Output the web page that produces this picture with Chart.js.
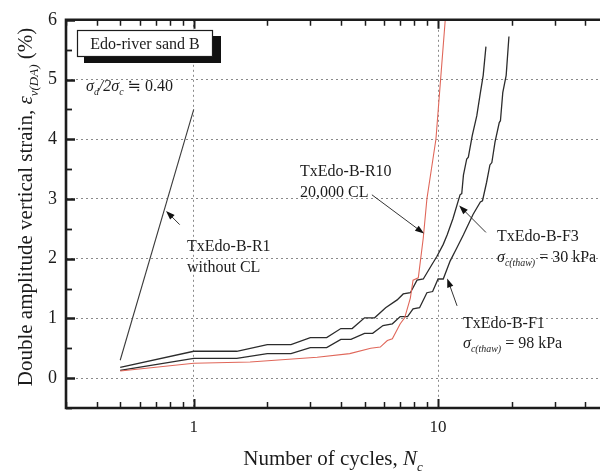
<!DOCTYPE html>
<html>
<head>
<meta charset="utf-8">
<script src="https://cdn.jsdelivr.net/npm/chart.js@4"></script>
<style>
  html, body { margin: 0; padding: 0; background: #fff; overflow: hidden; }
  #wrap { width: 600px; height: 473px; }
</style>
</head>
<body>
<div id="wrap"><canvas id="strainChart" width="600" height="473"></canvas></div>
<script>
// number of cycles / double amplitude vertical strain (%)
const r1Cycles = [0.5, 1];
const r1Strain = [0.3, 4.5];

const r10Cycles = [0.5, 1, 1.7, 3.2, 4.35, 5.3, 5.8, 6.2, 6.5, 7.0, 7.3, 7.7, 7.9, 8.3, 8.7, 9.0, 9.8, 10.7, 11];
const r10Strain = [0.12, 0.25, 0.27, 0.35, 0.41, 0.50, 0.52, 0.63, 0.66, 0.91, 1.01, 1.34, 1.64, 1.68, 2.35, 3.0, 4.0, 6.0, 6.5];

const f3Cycles = [0.5, 1, 1.5, 2.0, 2.5, 3.0, 3.5, 4.0, 4.45, 5.0, 5.5, 6.1, 6.8, 7.2, 7.7, 8.2, 8.7, 9.4, 9.9, 10.5, 10.9, 11.5, 12.3, 12.5, 12.7, 13.1, 13.3, 13.8, 14.4, 14.9, 15.3, 15.7];
const f3Strain = [0.18, 0.45, 0.45, 0.56, 0.56, 0.68, 0.68, 0.83, 0.83, 1.01, 1.01, 1.18, 1.31, 1.41, 1.43, 1.64, 1.66, 1.89, 2.04, 2.24, 2.40, 2.67, 3.07, 3.09, 3.40, 3.67, 3.70, 4.06, 4.39, 4.78, 5.07, 5.55];

const f1Cycles = [0.5, 1, 1.5, 2.0, 2.5, 3.0, 3.5, 4.0, 4.4, 5.0, 5.4, 5.95, 6.5, 7.0, 7.5, 7.9, 8.4, 9.0, 9.5, 10.0, 10.5, 11.2, 11.9, 12.7, 13.9, 14.9, 15.2, 15.8, 16.3, 16.6, 17.1, 17.8, 18.0, 18.4, 19.0, 19.5];
const f1Strain = [0.13, 0.33, 0.33, 0.41, 0.41, 0.51, 0.51, 0.65, 0.65, 0.75, 0.75, 0.88, 0.91, 1.03, 1.03, 1.16, 1.18, 1.43, 1.45, 1.66, 1.66, 1.96, 2.17, 2.40, 2.74, 2.95, 2.97, 3.28, 3.57, 3.61, 3.95, 4.28, 4.31, 4.78, 5.07, 5.72];

// axis ticks
const xTickValues = [0.3, 0.4, 0.5, 0.6, 0.7, 0.8, 0.9, 1, 2, 3, 4, 5, 6, 7, 8, 9, 10, 20, 30, 40];
const xTickLabels = [1, 10];
const yTickValues = [-0.5, 0, 0.5, 1, 1.5, 2, 2.5, 3, 3.5, 4, 4.5, 5, 5.5, 6];

const SERIF = '"Liberation Serif", "DejaVu Serif", serif';
const INK = '#1c1c1c';

const toPoints = (xs, ys) => xs.map((v, i) => ({ x: v, y: ys[i] }));

function lineSet(label, xs, ys, color, width) {
  return {
    label,
    data: toPoints(xs, ys),
    borderColor: color,
    borderWidth: width,
    pointRadius: 0,
    tension: 0,
    fill: false,
    clip: 0
  };
}

// text made of runs: {t, italic, sub}
function runsWidth(ctx, runs, size) {
  let w = 0;
  runs.forEach(r => {
    const s = r.sub ? size * 0.62 : size;
    ctx.font = (r.italic ? 'italic ' : '') + s + 'px ' + SERIF;
    w += ctx.measureText(r.t).width;
  });
  return w;
}

function drawRuns(ctx, x, y, runs, size) {
  let cx = x;
  runs.forEach(r => {
    const s = r.sub ? size * 0.62 : size;
    ctx.font = (r.italic ? 'italic ' : '') + s + 'px ' + SERIF;
    ctx.fillText(r.t, cx, r.sub ? y + size * 0.28 : y);
    cx += ctx.measureText(r.t).width;
  });
}

function arrow(ctx, x0, y0, x1, y1) {
  const ang = Math.atan2(y1 - y0, x1 - x0);
  const head = 9, half = 3.2;
  ctx.beginPath();
  ctx.moveTo(x0, y0);
  ctx.lineTo(x1 - Math.cos(ang) * head * 0.6, y1 - Math.sin(ang) * head * 0.6);
  ctx.stroke();
  ctx.beginPath();
  ctx.moveTo(x1, y1);
  ctx.lineTo(x1 - Math.cos(ang) * head - Math.sin(ang) * half, y1 - Math.sin(ang) * head + Math.cos(ang) * half);
  ctx.lineTo(x1 - Math.cos(ang) * head + Math.sin(ang) * half, y1 - Math.sin(ang) * head - Math.cos(ang) * half);
  ctx.closePath();
  ctx.fill();
}

// leader arrows, tail -> tip, in data coordinates
const leaders = [
  [[0.876, 2.57], [0.77, 2.80]],
  [[5.36, 3.07], [8.76, 2.42]],
  [[15.7, 2.44], [12.2, 2.89]],
  [[11.96, 1.21], [10.9, 1.67]]
];

const framePlugin = {
  id: 'frame',
  afterDatasetsDraw(chart) {
    const { ctx, chartArea: a, scales: { x, y } } = chart;
    ctx.save();
    ctx.strokeStyle = INK;
    ctx.lineCap = 'butt';

    // inward tick marks on bottom, top and left
    xTickValues.forEach(v => {
      const px = Math.round(x.getPixelForValue(v)) + 0.5;
      const major = xTickLabels.includes(v);
      ctx.lineWidth = major ? 2 : 1.5;
      const len = major ? 9 : 6;
      ctx.beginPath();
      ctx.moveTo(px, a.bottom);
      ctx.lineTo(px, a.bottom - len);
      ctx.moveTo(px, a.top);
      ctx.lineTo(px, a.top + len);
      ctx.stroke();
    });
    yTickValues.forEach(v => {
      const py = Math.round(y.getPixelForValue(v)) + 0.5;
      const major = Number.isInteger(v);
      ctx.lineWidth = major ? 2.5 : 1.8;
      const len = major ? 9 : 6;
      ctx.beginPath();
      ctx.moveTo(a.left, py);
      ctx.lineTo(a.left + len, py);
      ctx.stroke();
    });

    // frame: left, top, bottom
    ctx.lineWidth = 2.6;
    ctx.beginPath();
    ctx.moveTo(a.right + 2, a.top);
    ctx.lineTo(a.left, a.top);
    ctx.lineTo(a.left, a.bottom);
    ctx.lineTo(a.right + 2, a.bottom);
    ctx.stroke();
    ctx.restore();
  },
  afterDraw(chart) {
    const { ctx, chartArea: a, scales: { x, y } } = chart;
    ctx.save();
    ctx.fillStyle = INK;
    ctx.textBaseline = 'alphabetic';

    // title box with heavy shadow
    ctx.fillStyle = '#111';
    ctx.fillRect(84, 36, 137, 27);
    ctx.fillStyle = '#fff';
    ctx.fillRect(77, 30, 136, 27);
    ctx.strokeStyle = INK;
    ctx.lineWidth = 1.2;
    ctx.strokeRect(77.5, 30.5, 135, 26);
    ctx.fillStyle = INK;
    ctx.font = '16px ' + SERIF;
    ctx.textAlign = 'center';
    ctx.fillText('Edo-river sand B', 145, 49);
    ctx.textAlign = 'left';

    // stress ratio
    drawRuns(ctx, 86, 91, [
      { t: 'σ', italic: true }, { t: 'd', italic: true, sub: true },
      { t: '/2σ', italic: true }, { t: 'c', italic: true, sub: true },
      { t: ' ≒ 0.40' }
    ], 16);

    // curve labels
    ctx.font = '16px ' + SERIF;
    ctx.fillText('TxEdo-B-R1', 187, 251);
    ctx.fillText('without CL', 187, 272);
    ctx.fillText('TxEdo-B-R10', 300, 176);
    ctx.fillText('20,000 CL', 300, 197);
    ctx.fillText('TxEdo-B-F3', 497, 241);
    drawRuns(ctx, 497, 262, [
      { t: 'σ', italic: true }, { t: 'c(thaw)', italic: true, sub: true }, { t: ' = 30 kPa' }
    ], 16);
    ctx.font = '16px ' + SERIF;
    ctx.fillText('TxEdo-B-F1', 463, 328);
    drawRuns(ctx, 463, 348, [
      { t: 'σ', italic: true }, { t: 'c(thaw)', italic: true, sub: true }, { t: ' = 98 kPa' }
    ], 16);

    // leader arrows
    ctx.strokeStyle = '#333';
    ctx.fillStyle = '#111';
    ctx.lineWidth = 1;
    leaders.forEach(([t, h]) => {
      arrow(ctx, x.getPixelForValue(t[0]), y.getPixelForValue(t[1]),
        x.getPixelForValue(h[0]), y.getPixelForValue(h[1]));
    });

    // axis titles
    ctx.fillStyle = INK;
    const xRuns = [{ t: 'Number of cycles, ' }, { t: 'N', italic: true }, { t: 'c', italic: true, sub: true }];
    const xw = runsWidth(ctx, xRuns, 21);
    drawRuns(ctx, (a.left + a.right) / 2 - xw / 2, 465, xRuns, 21);

    const yRuns = [
      { t: 'Double amplitude vertical strain, ' }, { t: 'ε', italic: true },
      { t: 'v(DA)', italic: true, sub: true }, { t: ' (%)' }
    ];
    const yw = runsWidth(ctx, yRuns, 21);
    ctx.translate(32, 207);
    ctx.rotate(-Math.PI / 2);
    drawRuns(ctx, -yw / 2, 0, yRuns, 21);
    ctx.restore();
  }
};

const ctx = document.getElementById('strainChart').getContext('2d');
new Chart(ctx, {
  type: 'line',
  data: {
    datasets: [
      lineSet('TxEdo-B-R1', r1Cycles, r1Strain, '#3a3a3a', 1.1),
      lineSet('TxEdo-B-R10', r10Cycles, r10Strain, '#e0675a', 1.1),
      lineSet('TxEdo-B-F3', f3Cycles, f3Strain, '#2c2c2c', 1.3),
      lineSet('TxEdo-B-F1', f1Cycles, f1Strain, '#2c2c2c', 1.3)
    ]
  },
  options: {
    responsive: false,
    animation: false,
    devicePixelRatio: 1,
    layout: { padding: { top: 16, right: 0, left: 0, bottom: 0 } },
    plugins: {
      legend: { display: false },
      tooltip: { enabled: false }
    },
    scales: {
      x: {
        type: 'logarithmic',
        min: 0.3,
        max: 46,
        afterBuildTicks: scale => { scale.ticks = xTickValues.map(v => ({ value: v })); },
        afterFit: scale => { scale.height = 65; },
        ticks: {
          autoSkip: false,
          maxRotation: 0,
          padding: 9,
          color: INK,
          font: { family: SERIF, size: 17 },
          callback: v => (xTickLabels.includes(v) ? String(v) : '')
        },
        grid: {
          drawTicks: false,
          lineWidth: 1,
          color: c => (c.tick && xTickLabels.includes(c.tick.value) ? '#8a8a8a' : 'rgba(0,0,0,0)')
        },
        border: { display: false, dash: [2, 3] }
      },
      y: {
        min: -0.5,
        max: 6,
        afterBuildTicks: scale => { scale.ticks = yTickValues.map(v => ({ value: v })); },
        afterFit: scale => { scale.width = 66; },
        ticks: {
          autoSkip: false,
          padding: 9,
          color: INK,
          font: { family: SERIF, size: 18 },
          callback: v => (Number.isInteger(v) && v >= 0 ? String(v) : '')
        },
        grid: {
          drawTicks: false,
          lineWidth: 1,
          color: c => (c.tick && Number.isInteger(c.tick.value) && c.tick.value >= 0 && c.tick.value <= 5
            ? '#8a8a8a' : 'rgba(0,0,0,0)')
        },
        border: { display: false, dash: [2, 3] }
      }
    }
  },
  plugins: [framePlugin]
});
</script>
</body>
</html>
